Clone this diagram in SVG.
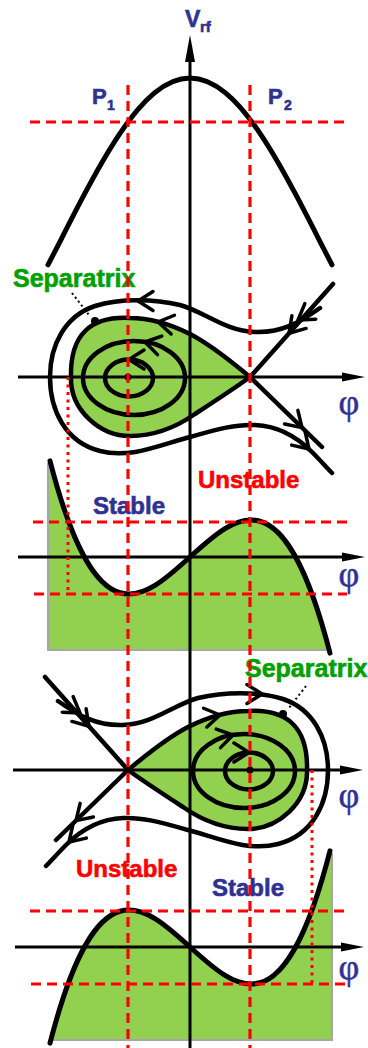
<svg xmlns="http://www.w3.org/2000/svg" xmlns:xlink="http://www.w3.org/1999/xlink" width="368" height="1048" viewBox="0 0 368 1048">
<style>
.crv{fill:none;stroke:#000;stroke-width:5;stroke-linecap:round}
.orb{fill:none;stroke:#000;stroke-width:4.5;stroke-linecap:round;stroke-linejoin:round}
.sep{fill:#92d050;stroke:#000;stroke-width:4.5;stroke-linejoin:miter}
.chev{fill:none;stroke:#000;stroke-width:3.5;stroke-linecap:round;stroke-linejoin:round}
.axis{stroke:#000;stroke-width:3;fill:none}
.dash{stroke:#f00;stroke-width:3.2;stroke-dasharray:10 6;fill:none}
.dotr{stroke:#f00;stroke-width:3;stroke-dasharray:3 4.5;fill:none}
.lead{stroke:#000;stroke-width:2;stroke-dasharray:2 3;fill:none}
.b{font-family:"Liberation Sans",Arial,sans-serif;font-weight:bold;stroke-width:0.6}
.blue{fill:#2e3192;stroke:#2e3192}
.red{fill:#f00;stroke:#f00}
.grn{fill:#00a000;stroke:#00a000}
.phi{font-family:"Liberation Serif","Times New Roman",serif;fill:#2e3192;stroke:#2e3192;stroke-width:0.5;font-size:36px;text-anchor:middle}
</style>
<defs>
<path id="chev" class="chev" d="M-15,-9.5 L0,0 L-15,9.5"/>
<g id="portrait">
  <path class="sep" d="M250,377 C235,365 215,347 190,334 C170,324 150,318 130,318 C90,316 70,335 71,377 C70,410 100,436 130,436 C155,436 175,428 195,414 C215,401 235,388 250,377 Z"/>
  <ellipse class="orb" cx="134" cy="378" rx="51" ry="37"/>
  <ellipse class="orb" cx="129" cy="378" rx="24" ry="18.5"/>
  <path class="orb" d="M333,284 L250,377 L322,447"/>
  <path class="orb" d="M320,308 C300,322 282,333 255,332 C225,331 205,312 180,305 C155,299 120,298 95,306 C65,316 50,345 50,377 C50,410 65,442 100,451 C130,459 160,445 190,437 C215,430 235,424 255,425 C280,426 300,440 312,452 C320,460 326,467 332,473"/>
  <circle cx="128" cy="377" r="3.5"/>
  <circle cx="95" cy="321" r="4"/>
  <path class="lead" d="M72,293 L89,315"/>
  <use xlink:href="#chev" href="#chev" transform="translate(289,333.3) rotate(131.75)"/>
  <use xlink:href="#chev" href="#chev" transform="translate(298,320) rotate(145)"/>
  <use xlink:href="#chev" href="#chev" transform="translate(302,427.6) rotate(44.2)"/>
  <use xlink:href="#chev" href="#chev" transform="translate(309,449) rotate(45)"/>
  <use xlink:href="#chev" href="#chev" transform="translate(158,322) rotate(190)"/>
  <use xlink:href="#chev" href="#chev" transform="translate(145,342) rotate(193)"/>
  <use xlink:href="#chev" href="#chev" transform="translate(129,359.5) rotate(180)"/>
</g>
<g id="potential">
  <path fill="#92d050" d="M48,461 L50,460.8 C143.3,823.1 236.7,290.9 330,653.2 L330,650 L48,650 Z"/>
  <path fill="none" stroke="#a6a6a6" stroke-width="2" d="M48,463 V650 H330"/>
  <path class="crv" d="M50,460.8 C143.3,823.1 236.7,290.9 330,653.2"/>
</g>
</defs>

<g id="rf-voltage">
  <path class="crv" d="M48,264.87 C59.83,242.01 71.67,218.30 83.5,195.92 C95.33,173.54 107.17,152.51 119,134.79 C130.83,117.07 142.67,102.66 154.5,92.89 C166.33,83.12 178.17,78 190,78 C201.83,78 213.67,83.12 225.5,92.89 C237.33,102.66 249.17,117.07 261,134.79 C272.83,152.51 284.67,173.54 296.5,195.92 C308.33,218.30 320.17,242.01 332,264.87"/>
</g>

<g id="phase-portrait-1">
  <use xlink:href="#portrait" href="#portrait"/>
  <use xlink:href="#chev" href="#chev" transform="translate(138,301) rotate(180)"/>
</g>
<g id="phase-portrait-2">
  <use xlink:href="#portrait" href="#portrait" transform="translate(378,393) scale(-1,1)"/>
  <use xlink:href="#chev" href="#chev" transform="translate(262,694)"/>
</g>

<g id="potential-1">
  <use xlink:href="#potential" href="#potential"/>
</g>
<g id="potential-2">
  <use xlink:href="#potential" href="#potential" transform="translate(380,390) scale(-1,1)"/>
</g>

<g id="axes">
  <line class="axis" x1="190" y1="60" x2="190" y2="1048"/>
  <polygon points="190,35 185,62 195,62"/>
  <line class="axis" x1="18" y1="377" x2="345" y2="377"/>
  <polygon points="365,377 342,372.5 342,381.5"/>
  <line class="axis" x1="18" y1="557" x2="345" y2="557"/>
  <polygon points="365,557 342,552.5 342,561.5"/>
  <line class="axis" x1="13" y1="770" x2="345" y2="770"/>
  <polygon points="363,770 340,765.5 340,774.5"/>
  <line class="axis" x1="15" y1="947" x2="345" y2="947"/>
  <polygon points="364,947 341,942.5 341,951.5"/>
</g>

<g id="labels">
  <text class="b blue" x="185" y="27" font-size="23">V</text>
  <text class="b blue" x="200" y="32" font-size="15">rf</text>
  <text class="b blue" x="92" y="104" font-size="22">P</text>
  <text class="b blue" x="107" y="110" font-size="14">1</text>
  <text class="b blue" x="268" y="104" font-size="22">P</text>
  <text class="b blue" x="284" y="110" font-size="14">2</text>
  <text class="b grn" x="13" y="287" font-size="25">Separatrix</text>
  <text class="b grn" x="245" y="677" font-size="25">Separatrix</text>
  <text class="b blue" x="93" y="514" font-size="24">Stable</text>
  <text class="b red" x="198" y="488" font-size="24">Unstable</text>
  <text class="b red" x="76" y="877" font-size="24">Unstable</text>
  <text class="b blue" x="212" y="896" font-size="24">Stable</text>
  <text class="phi" x="349" y="414">φ</text>
  <text class="phi" x="349" y="586">φ</text>
  <text class="phi" x="349" y="807">φ</text>
  <text class="phi" x="349" y="979">φ</text>
</g>

<g id="guides">
  <line class="dash" x1="128" y1="85" x2="128" y2="1048"/>
  <line class="dash" x1="250" y1="85" x2="250" y2="1048"/>
  <line class="dash" x1="30" y1="122" x2="345" y2="122"/>
  <line class="dash" x1="33" y1="522" x2="347" y2="522"/>
  <line class="dash" x1="34" y1="594" x2="347" y2="594"/>
  <line class="dash" x1="30" y1="911" x2="345" y2="911"/>
  <line class="dash" x1="31" y1="984" x2="345" y2="984"/>
  <line class="dotr" x1="68" y1="377" x2="68" y2="594"/>
  <line class="dotr" x1="312" y1="770" x2="312" y2="984"/>
</g>
</svg>
